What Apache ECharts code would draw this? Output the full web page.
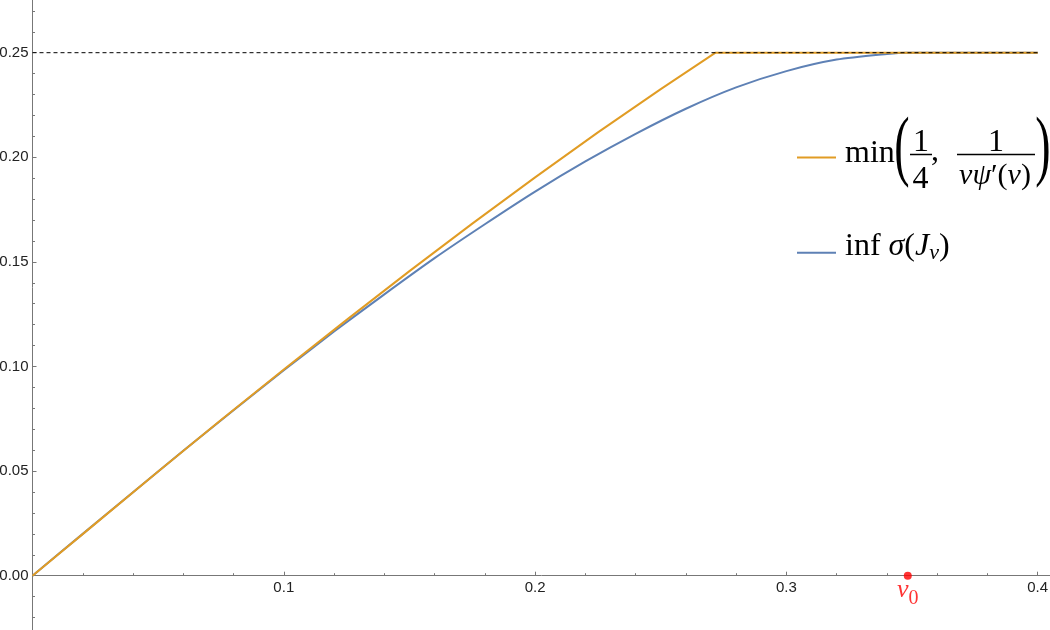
<!DOCTYPE html>
<html>
<head>
<meta charset="utf-8">
<script src="https://cdn.jsdelivr.net/npm/echarts@6/dist/echarts.min.js"></script>
<style>
html,body{margin:0;padding:0;background:#fff;}
#chart{width:1050px;height:630px;}
</style>
</head>
<body>
<div id="chart"></div>
<script>
// ---- data ----
const orangeX = [0, 0.025, 0.05, 0.075, 0.10, 0.125, 0.15, 0.175, 0.20, 0.225, 0.25, 0.2718, 0.30, 0.35, 0.40];
const orangeY = [0, 0.0249, 0.0498, 0.0744, 0.0986, 0.1223, 0.1456, 0.1683, 0.1904, 0.2119, 0.2326, 0.25, 0.25, 0.25, 0.25];

const blueX = [0, 0.02, 0.04, 0.06, 0.08, 0.10, 0.12, 0.14, 0.16, 0.18, 0.20, 0.22, 0.24, 0.26, 0.28, 0.30, 0.32, 0.34, 0.348, 0.40];
const blueY = [0, 0.0200, 0.0399, 0.0597, 0.0791, 0.0982, 0.1167, 0.1345, 0.1518, 0.1680, 0.1836, 0.1980, 0.2112, 0.2232, 0.2334, 0.2412, 0.2467, 0.2494, 0.2500, 0.2500];

const refLevelX = [0, 0.40];
const refLevelY = [0.25, 0.25];

const nu0 = [0.3483, 0];

const xTickStep = 0.1;
const yTickStep = 0.05;

const legendNames = ['min(1/4, 1/(νψ′(ν)))', 'inf σ(J_ν)'];

const zip = (xs, ys) => xs.map((x, i) => [x, ys[i]]);

const ORANGE = '#E19C24';
const BLUE = '#5E81B5';
const AXIS = '#777';
const SERIF = '"Liberation Serif", "Times New Roman", serif';
const SANS = '"Liberation Sans", Arial, sans-serif';

const chart = echarts.init(document.getElementById('chart'));

const parenFont = 46;
const parenScale = 1.7;

const tickCommon = {
  axisTick: { show: true, inside: true, length: 4, lineStyle: { color: AXIS } },
  minorTick: { show: true, splitNumber: 5, length: 2.5, lineStyle: { color: AXIS } },
  splitLine: { show: false }
};

chart.setOption({
  animation: false,
  backgroundColor: '#fff',
  grid: [
    // main plot: y from 0 to 0.30 (top is above the canvas)
    { left: 32.5, top: -51.9, width: 1256.5, height: 627.6, containLabel: false, outerBoundsMode: 'none' },
    // lower part of the y axis: y from -0.05 to 0
    { left: 32.5, top: 575.6, width: 1256.5, height: 104.6, containLabel: false, outerBoundsMode: 'none' }
  ],
  xAxis: [
    Object.assign({
      gridIndex: 0, type: 'value', min: 0, max: 0.5, interval: xTickStep,
      axisLine: { onZero: false, lineStyle: { color: AXIS, width: 1 } },
      axisLabel: {
        margin: 5, color: '#222', fontSize: 15, fontFamily: SANS,
        formatter: v => (Math.abs(v) < 1e-9 ? '' : String(+v.toFixed(1)))
      }
    }, tickCommon),
    { gridIndex: 1, type: 'value', min: 0, max: 0.5, show: false }
  ],
  yAxis: [
    Object.assign({
      gridIndex: 0, type: 'value', min: 0, max: 0.30, interval: yTickStep,
      axisLine: { onZero: false, lineStyle: { color: AXIS, width: 1 } },
      axisLabel: {
        margin: 4, color: '#222', fontSize: 15, fontFamily: SANS,
        formatter: v => v.toFixed(2)
      }
    }, tickCommon),
    Object.assign({
      gridIndex: 1, type: 'value', min: -0.05, max: 0, interval: yTickStep,
      axisLine: { onZero: false, lineStyle: { color: AXIS, width: 1 } },
      axisLabel: { show: false }
    }, tickCommon)
  ],
  series: [
    {
      name: legendNames[0], type: 'line', data: zip(orangeX, orangeY),
      xAxisIndex: 0, yAxisIndex: 0, clip: false,
      showSymbol: false, symbol: 'none', z: 3,
      lineStyle: { color: ORANGE, width: 2 }
    },
    {
      name: legendNames[1], type: 'line', data: zip(blueX, blueY),
      xAxisIndex: 0, yAxisIndex: 0, clip: false,
      showSymbol: false, symbol: 'none', smooth: 0.25, z: 2,
      lineStyle: { color: BLUE, width: 2 }
    },
    {
      name: 'level', type: 'line', data: zip(refLevelX, refLevelY),
      xAxisIndex: 0, yAxisIndex: 0, clip: false,
      showSymbol: false, symbol: 'none', z: 4, silent: true,
      lineStyle: { color: '#000', width: 1, type: [4, 3] }
    },
    {
      name: 'nu0', type: 'scatter', data: [nu0], symbol: 'circle', symbolSize: 8, z: 5,
      xAxisIndex: 0, yAxisIndex: 0, clip: false,
      itemStyle: { color: '#FF0000' },
      label: {
        show: true, position: 'bottom', distance: -3,
        formatter: '{a|ν}{b|0}',
        rich: {
          a: { fontFamily: SERIF, fontStyle: 'italic', fontSize: 26, color: '#FF0000', lineHeight: 26 },
          b: { fontFamily: SERIF, fontSize: 20, color: '#FF0000', lineHeight: 20, padding: [18, 0, 0, 0] }
        }
      }
    }
  ],
  graphic: [
    // legend item 1
    { type: 'line', shape: { x1: 797, y1: 157.5, x2: 836, y2: 157.5 }, style: { stroke: ORANGE, lineWidth: 2 } },
    { type: 'text', x: 845, y: 154, style: { text: 'min', fontSize: 32, fontFamily: SERIF, fill: '#000', align: 'left', verticalAlign: 'middle' } },
    { type: 'text', x: 902, y: 150, scaleY: parenScale, style: { text: '(', fontSize: parenFont, fontFamily: SERIF, fill: '#000', align: 'center', verticalAlign: 'middle' } },
    { type: 'text', x: 921, y: 142.5, style: { text: '1', fontSize: 32, fontFamily: SERIF, fill: '#000', align: 'center', verticalAlign: 'middle' } },
    { type: 'line', shape: { x1: 910, y1: 154.5, x2: 932, y2: 154.5 }, style: { stroke: '#000', lineWidth: 1.5 } },
    { type: 'text', x: 920.5, y: 179.5, style: { text: '4', fontSize: 32, fontFamily: SERIF, fill: '#000', align: 'center', verticalAlign: 'middle' } },
    { type: 'text', x: 935, y: 152, style: { text: ',', fontSize: 32, fontFamily: SERIF, fill: '#000', align: 'center', verticalAlign: 'middle' } },
    { type: 'text', x: 996, y: 142.5, style: { text: '1', fontSize: 32, fontFamily: SERIF, fill: '#000', align: 'center', verticalAlign: 'middle' } },
    { type: 'line', shape: { x1: 957, y1: 154.5, x2: 1035, y2: 154.5 }, style: { stroke: '#000', lineWidth: 1.5 } },
    { type: 'text', x: 995, y: 176, style: {
        text: '{i|νψ}′({i|ν})', fontSize: 30, fontFamily: SERIF, fill: '#000', align: 'center', verticalAlign: 'middle',
        rich: { i: { fontSize: 30, fontFamily: SERIF, fontStyle: 'italic', fill: '#000' } }
    } },
    { type: 'text', x: 1043, y: 150, scaleY: parenScale, style: { text: ')', fontSize: parenFont, fontFamily: SERIF, fill: '#000', align: 'center', verticalAlign: 'middle' } },
    // legend item 2
    { type: 'line', shape: { x1: 797, y1: 252.7, x2: 836, y2: 252.7 }, style: { stroke: BLUE, lineWidth: 2 } },
    { type: 'text', x: 845, y: 247, style: {
        text: '{r|inf }{i|σ}{r|(}{i|J}{s|ν}{r|)}', fontSize: 32, fontFamily: SERIF, fill: '#000', align: 'left', verticalAlign: 'middle',
        rich: {
          r: { fontSize: 32, fontFamily: SERIF, fill: '#000', lineHeight: 32 },
          i: { fontSize: 32, fontFamily: SERIF, fontStyle: 'italic', fill: '#000', lineHeight: 32 },
          s: { fontSize: 22, fontFamily: SERIF, fontStyle: 'italic', fill: '#000', lineHeight: 16, padding: [12, 0, 0, 0] }
        }
    } }
  ]
});
</script>
</body>
</html>
